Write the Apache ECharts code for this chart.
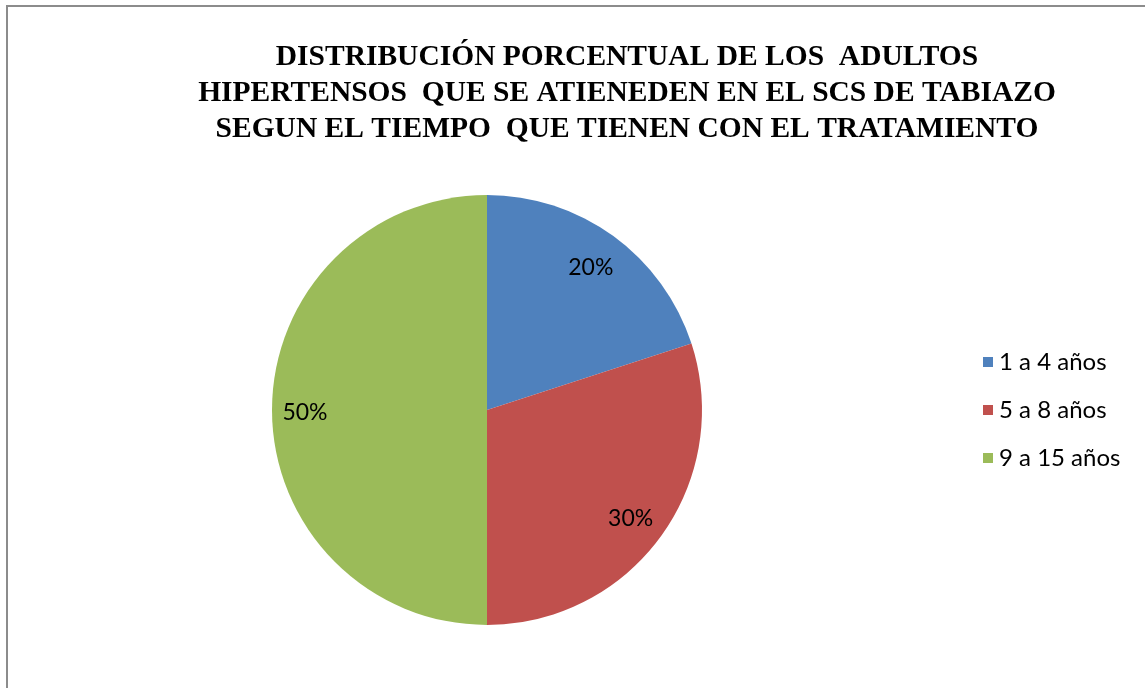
<!DOCTYPE html>
<html>
<head>
<meta charset="utf-8">
<script src="https://cdn.jsdelivr.net/npm/echarts@6/dist/echarts.min.js"></script>
<style>
  html, body { margin: 0; padding: 0; background: #fff; overflow: hidden; }
  #frame {
    position: absolute; left: 6px; top: 5px; width: 1300px; height: 900px;
    border-top: 2px solid #8c8c8c; border-left: 2px solid #8c8c8c;
  }
  #chart { position: absolute; left: 0; top: 0; width: 1145px; height: 688px; }
</style>
</head>
<body>
<div id="frame"></div>
<div id="chart"></div>
<script>
// datos del grafico
const titleLines = [
  'DISTRIBUCIÓN PORCENTUAL DE LOS  ADULTOS',
  'HIPERTENSOS  QUE SE ATIENEDEN EN EL SCS DE TABIAZO',
  'SEGUN EL TIEMPO  QUE TIENEN CON EL TRATAMIENTO'
]
const categories = ['1 a 4 años', '5 a 8 años', '9 a 15 años']
const percents = [20, 30, 50]
const colors = ['#4F81BD', '#C0504D', '#9BBB59']

const pieData = categories.map((name, i) => ({ name: name, value: percents[i] }))

const chart = echarts.init(document.getElementById('chart'), null, { renderer: 'canvas' })

chart.setOption({
  animation: false,
  color: colors,
  title: {
    text: titleLines.join('\n'),
    left: 622,
    top: 34,
    textAlign: 'center',
    textStyle: {
      fontFamily: 'Liberation Serif',
      fontWeight: 'bold',
      fontSize: 29.5,
      lineHeight: 36,
      color: '#000'
    }
  },
  legend: {
    orient: 'vertical',
    left: 978,
    top: 345,
    itemWidth: 10,
    itemHeight: 10,
    itemGap: 24,
    icon: 'rect',
    data: categories,
    textStyle: {
      fontFamily: 'Lato',
      fontSize: 24,
      color: '#000',
      padding: [0, 0, 0, 1]
    }
  },
  series: [
    {
      type: 'pie',
      center: [487, 410],
      radius: [0, 215],
      startAngle: 90,
      clockwise: true,
      data: pieData,
      itemStyle: { borderWidth: 0 },
      label: { show: false },
      labelLine: { show: false },
      silent: true
    },
    {
      // serie transparente solo para poner las etiquetas de porcentaje
      type: 'pie',
      center: [487, 410],
      radius: [150, 204],
      startAngle: 90,
      clockwise: true,
      data: pieData,
      legendHoverLink: false,
      itemStyle: { color: 'rgba(0,0,0,0)', borderWidth: 0 },
      label: {
        show: true,
        position: 'inside',
        formatter: '{c}%',
        fontFamily: 'Lato',
        fontSize: 23,
        color: '#000',
        offset: [-2, 3]
      },
      labelLine: { show: false },
      silent: true
    }
  ]
})
</script>
</body>
</html>
